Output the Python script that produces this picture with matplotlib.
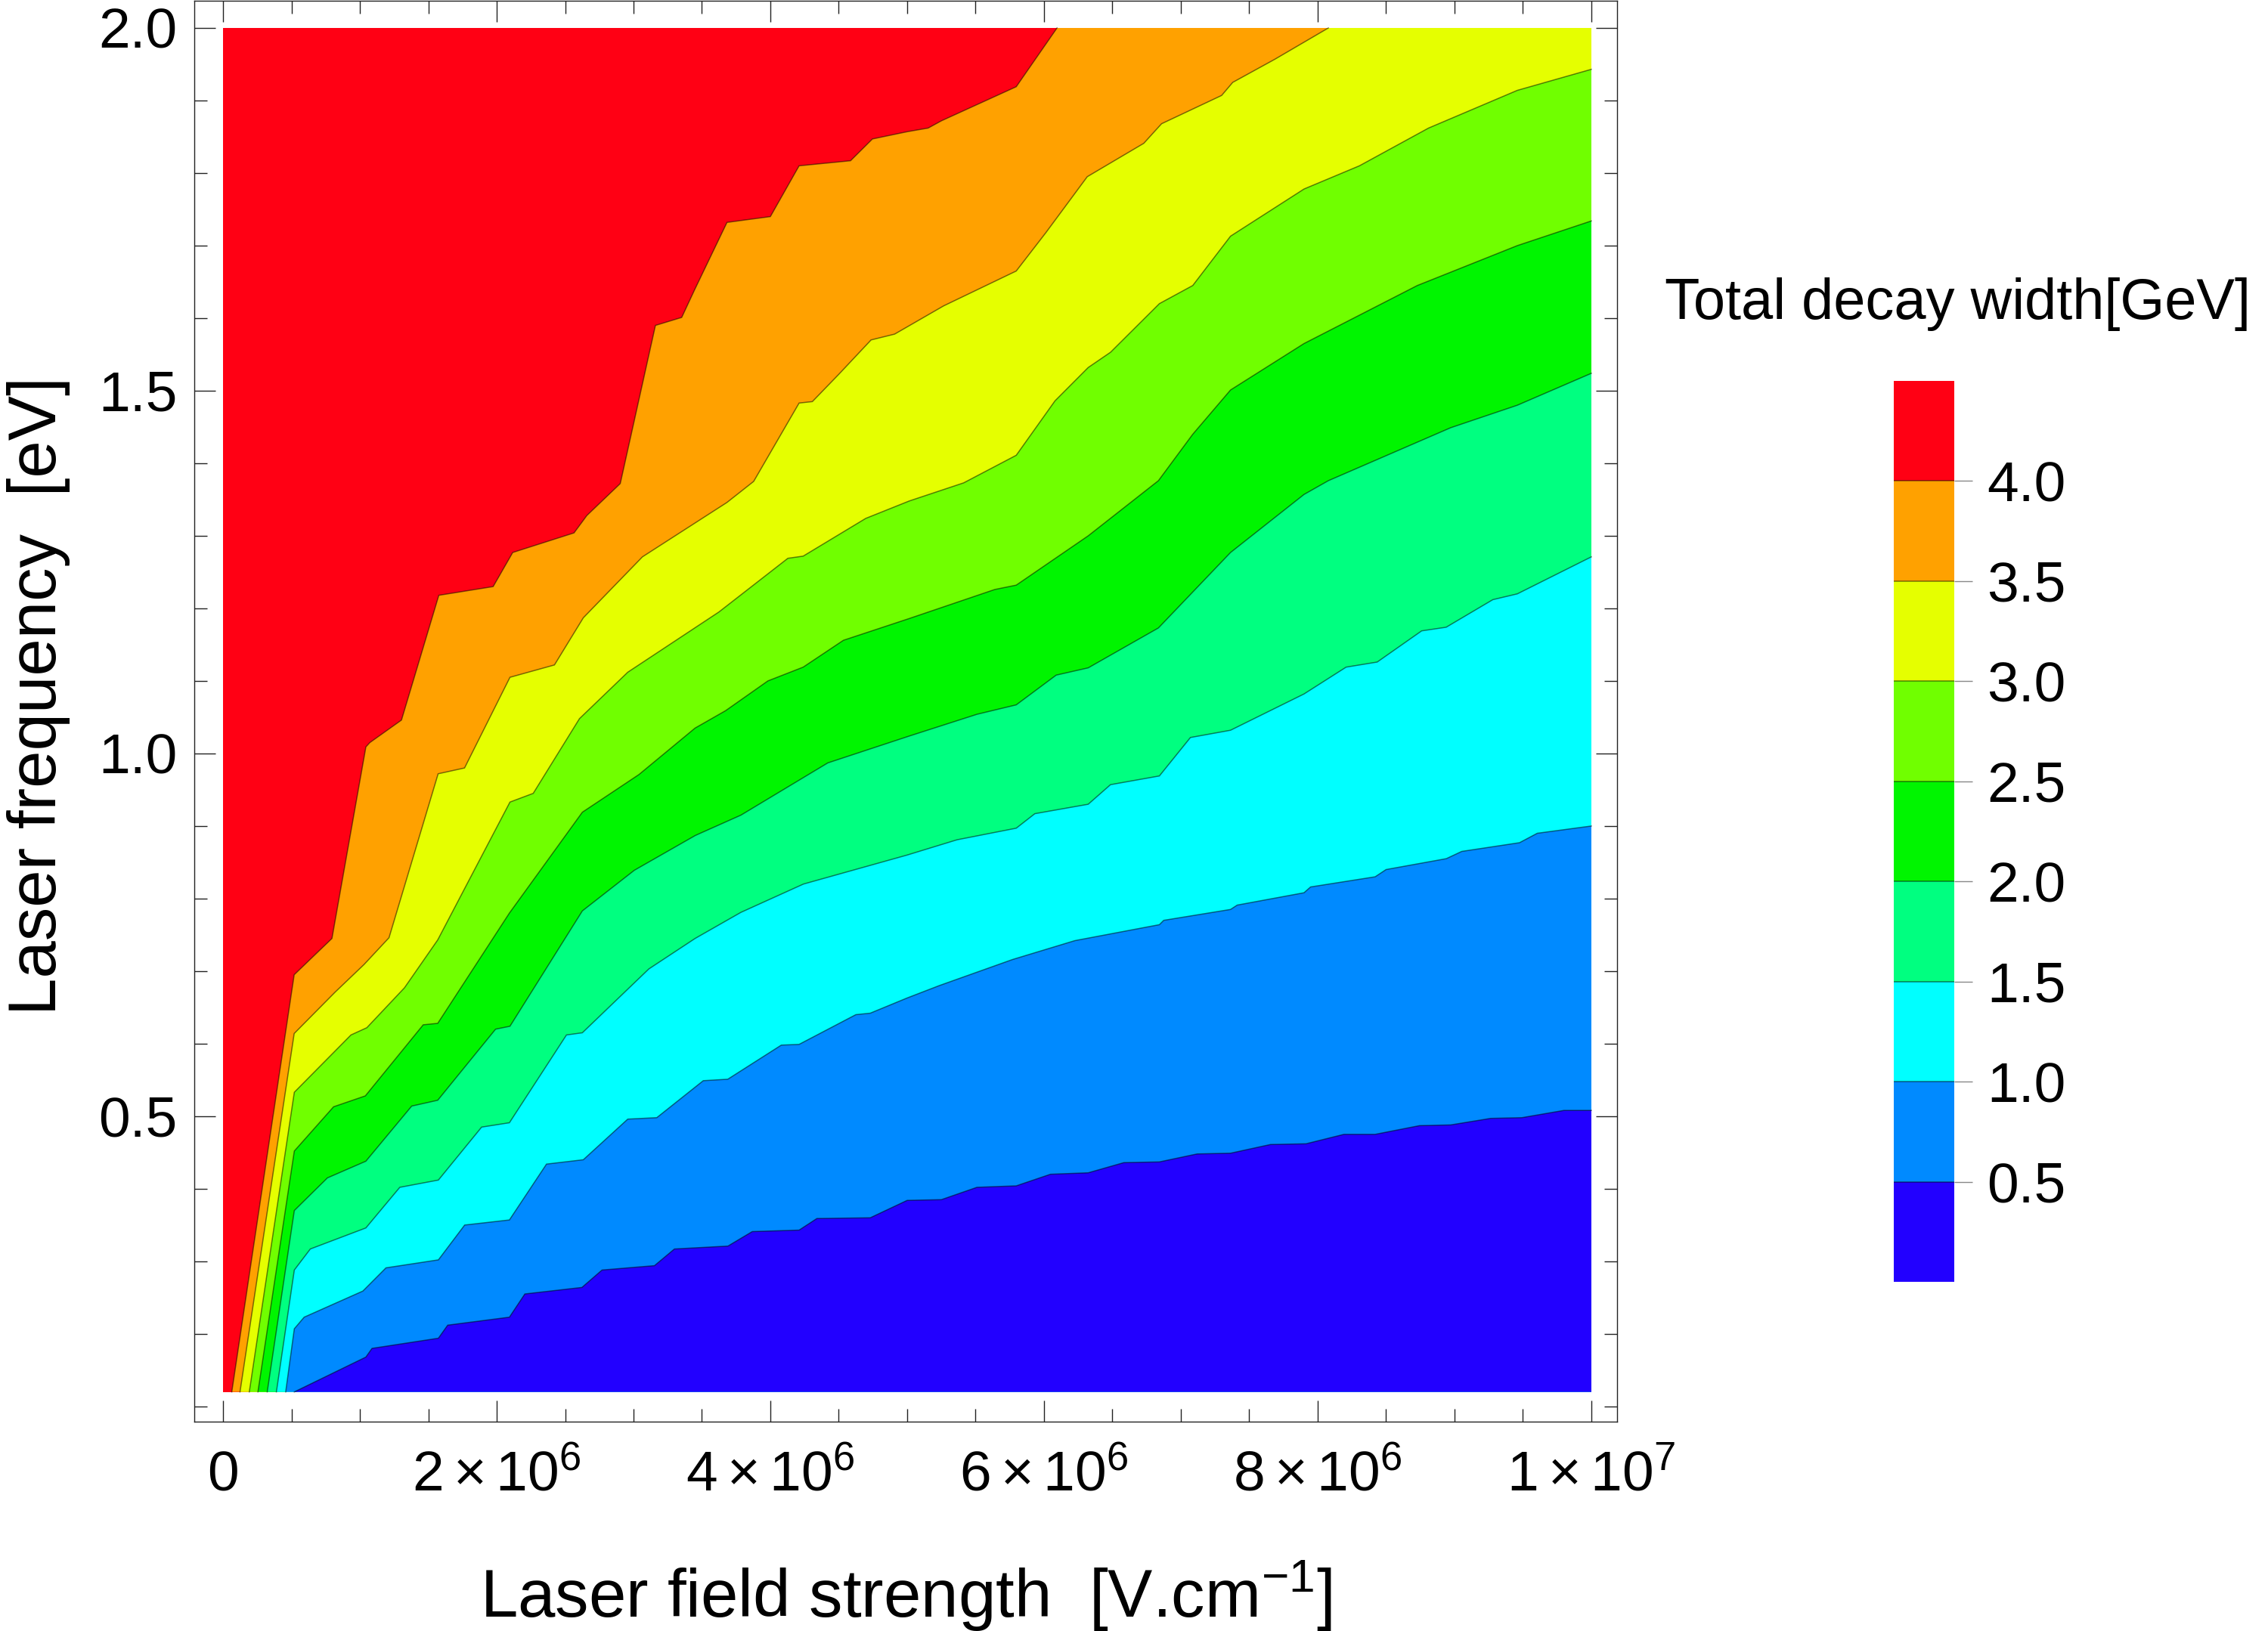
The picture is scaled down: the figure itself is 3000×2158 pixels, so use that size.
import numpy as np
import matplotlib
matplotlib.use("Agg")
import matplotlib.pyplot as plt
from matplotlib.colors import ListedColormap, BoundaryNorm
from matplotlib.cm import ScalarMappable
from matplotlib.ticker import MultipleLocator, FixedLocator

plt.rcParams['font.family'] = ['Liberation Sans', 'DejaVu Sans']
plt.rcParams['mathtext.fontset'] = 'custom'
plt.rcParams['mathtext.rm'] = 'Liberation Sans'
plt.rcParams['mathtext.it'] = 'Liberation Sans:italic'
plt.rcParams['mathtext.bf'] = 'Liberation Sans:bold'

# ---------------- data (field strength in units of 1e6 V/cm, frequency in eV) -------------
contour_levels = [0.5, 1.0, 1.5, 2.0, 2.5, 3.0, 3.5, 4.0]
colorbar_bounds = [0.0, 0.5, 1.0, 1.5, 2.0, 2.5, 3.0, 3.5, 4.0, 4.5]
band_colors = ['#2200FF', '#008AFF', '#00FFFF', '#00FF80', '#00F500',
               '#70FF00', '#E5FF00', '#FFA100', '#FF0014']
field_min, field_max = 0.0, 10.0
freq_min, freq_max = 0.12, 2.0

b40_x = [0.064, 0.52, 0.796, 1.044, 1.073, 1.304, 1.577, 1.974, 2.117, 2.565, 2.659, 2.903, 3.16, 3.352,
         3.446, 3.683, 4.0, 4.21, 4.586, 4.746, 5.0, 5.153, 5.25, 5.797, 6.095]
b40_y = [0.12, 0.695, 0.745, 1.009, 1.015, 1.046, 1.218, 1.230, 1.277, 1.304, 1.328, 1.372, 1.590, 1.601,
         1.639, 1.732, 1.740, 1.810, 1.817, 1.847, 1.857, 1.862, 1.872, 1.919, 2.0]

b35_x = [0.124, 0.52, 0.819, 1.03, 1.213, 1.572, 1.765, 2.097, 2.422, 2.633, 3.065, 3.683, 3.878, 4.21,
         4.307, 4.502, 4.736, 4.908, 5.267, 5.797, 6.014, 6.316, 6.729, 6.859, 7.298, 7.379, 7.688, 8.078]
b35_y = [0.12, 0.614, 0.671, 0.709, 0.746, 0.972, 0.980, 1.105, 1.122, 1.187, 1.271, 1.346, 1.375, 1.483,
         1.485, 1.523, 1.570, 1.578, 1.617, 1.665, 1.718, 1.795, 1.841, 1.868, 1.907, 1.925, 1.957, 2.0]

b30_x = [0.192, 0.521, 0.935, 1.051, 1.326, 1.569, 2.097, 2.267, 2.605, 2.958, 3.624, 4.128, 4.24, 4.697,
         5.015, 5.413, 5.797, 6.08, 6.323, 6.486, 6.843, 7.087, 7.363, 7.9, 8.305, 8.81, 9.459, 10.0]
b30_y = [0.12, 0.533, 0.612, 0.622, 0.677, 0.743, 0.933, 0.945, 1.048, 1.112, 1.195, 1.269, 1.272, 1.324,
         1.348, 1.373, 1.411, 1.486, 1.532, 1.553, 1.62, 1.645, 1.713, 1.778, 1.81, 1.862, 1.914, 1.943]

b25_x = [0.255, 0.521, 0.808, 1.04, 1.463, 1.569, 2.093, 2.626, 3.04, 3.45, 3.673, 3.982, 4.24, 4.534,
         5.015, 5.64, 5.797, 6.323, 6.836, 7.087, 7.363, 7.9, 8.728, 9.459, 10.0]
b25_y = [0.12, 0.452, 0.513, 0.528, 0.626, 0.628, 0.78, 0.919, 0.971, 1.035, 1.059, 1.1, 1.119, 1.156,
         1.186, 1.226, 1.232, 1.3, 1.376, 1.44, 1.501, 1.565, 1.645, 1.7, 1.734]

b20_x = [0.323, 0.521, 0.763, 1.044, 1.379, 1.569, 1.992, 2.097, 2.626, 3.006, 3.452, 3.785, 4.42, 5.015,
         5.51, 5.797, 6.089, 6.323, 6.836, 7.363, 7.9, 8.078, 8.972, 9.459, 10.0]
b20_y = [0.12, 0.37, 0.415, 0.438, 0.514, 0.522, 0.62, 0.624, 0.783, 0.839, 0.887, 0.915, 0.987, 1.024,
         1.054, 1.067, 1.108, 1.118, 1.173, 1.277, 1.357, 1.376, 1.449, 1.48, 1.524]

b15_x = [0.39, 0.521, 0.638, 1.044, 1.292, 1.574, 1.89, 2.093, 2.51, 2.626, 3.112, 3.45, 3.785, 4.242,
         5.0, 5.364, 5.797, 5.933, 6.323, 6.486, 6.843, 7.07, 7.363, 7.9, 8.208, 8.435, 8.76, 8.939,
         9.28, 9.459, 10.0]
b15_y = [0.12, 0.288, 0.317, 0.346, 0.402, 0.412, 0.485, 0.491, 0.612, 0.615, 0.703, 0.745, 0.781, 0.820,
         0.86, 0.881, 0.897, 0.917, 0.93, 0.957, 0.969, 1.022, 1.032, 1.082, 1.119, 1.126, 1.169, 1.174,
         1.212, 1.22, 1.271]

b10_x = [0.458, 0.521, 0.593, 1.022, 1.191, 1.574, 1.766, 2.093, 2.364, 2.633, 2.958, 3.17, 3.51, 3.689,
         4.08, 4.21, 4.625, 4.73, 5.0, 5.234, 5.77, 6.225, 6.843, 6.875, 7.363, 7.412, 7.9, 7.948, 8.42,
         8.5, 8.94, 9.053, 9.475, 9.605, 10.0]
b10_y = [0.12, 0.207, 0.223, 0.259, 0.291, 0.302, 0.35, 0.357, 0.434, 0.44, 0.496, 0.498, 0.549, 0.551,
         0.598, 0.599, 0.640, 0.642, 0.663, 0.68, 0.716, 0.742, 0.764, 0.77, 0.785, 0.791, 0.808, 0.816, 0.83,
         0.84, 0.855, 0.865, 0.877, 0.89, 0.9]

b05_x = [0.521, 1.044, 1.089, 1.574, 1.642, 2.093, 2.206, 2.623, 2.77, 3.153, 3.299, 3.69, 3.868, 4.21,
         4.34, 4.73, 5.0, 5.25, 5.51, 5.797, 6.047, 6.323, 6.583, 6.843, 7.119, 7.363, 7.655, 7.915, 8.192,
         8.42, 8.744, 8.972, 9.264, 9.492, 9.8, 10.0]
b05_y = [0.12, 0.168, 0.18, 0.194, 0.212, 0.223, 0.255, 0.264, 0.288, 0.294, 0.317, 0.321, 0.341, 0.343,
         0.359, 0.36, 0.384, 0.385, 0.402, 0.404, 0.42, 0.422, 0.436, 0.437, 0.448, 0.449, 0.461, 0.462, 0.475,
         0.475, 0.487, 0.488, 0.497, 0.498, 0.508, 0.508]

boundaries = [(b05_x, b05_y), (b10_x, b10_y), (b15_x, b15_y), (b20_x, b20_y),
              (b25_x, b25_y), (b30_x, b30_y), (b35_x, b35_y), (b40_x, b40_y)]

xtick_vals = [0, 2, 4, 6, 8, 10]
xtick_labels = ['0', r'$\mathregular{2\times10^{6}}$', r'$\mathregular{4\times10^{6}}$',
                r'$\mathregular{6\times10^{6}}$', r'$\mathregular{8\times10^{6}}$',
                r'$\mathregular{1\times10^{7}}$']
ytick_vals = [0.5, 1.0, 1.5, 2.0]
ytick_labels = ['0.5', '1.0', '1.5', '2.0']

# ---------------- figure ----------------
U = 1e6
W, H = 3000, 2158
fig = plt.figure(figsize=(W / 100, H / 100), dpi=100)
ax = fig.add_axes([257 / W, (H - 1881) / H, (2139 - 257) / W, 1880 / H])

# top band everywhere, then overlay lower bands below each boundary
ax.fill(np.array([field_min, field_max, field_max, field_min]) * U,
        [freq_min, freq_min, freq_max, freq_max], color=band_colors[-1], lw=0)
for i in range(len(boundaries) - 1, -1, -1):
    bx, by = boundaries[i]
    px = list(np.array(bx) * U)
    py = list(by)
    if by[-1] >= freq_max - 1e-9:
        px.append(field_max * U)
        py.append(freq_max)
    px.append(field_max * U)
    py.append(freq_min)
    ax.fill(px, py, color=band_colors[i], lw=0)
for bx, by in boundaries:
    ax.plot(np.array(bx) * U, by, color=(0, 0, 0, 0.5), lw=1.1, solid_joinstyle='miter')

ax.set_xlim(-0.21 * U, 10.188 * U)
ax.set_ylim(0.079, 2.0375)

ax.xaxis.set_major_locator(FixedLocator(np.array(xtick_vals) * U))
ax.set_xticklabels(xtick_labels)
ax.xaxis.set_minor_locator(MultipleLocator(0.5 * U))
ax.yaxis.set_major_locator(FixedLocator(ytick_vals))
ax.set_yticklabels(ytick_labels)
ax.yaxis.set_minor_locator(MultipleLocator(0.1))

ax.tick_params(which='both', direction='in', top=True, right=True, width=1.0, color='#222222')
ax.tick_params(which='major', length=20)
ax.tick_params(which='minor', length=12)
ax.tick_params(axis='y', labelsize=54, pad=16)
ax.tick_params(axis='x', labelsize=54, pad=66)
for t in ax.xaxis.get_major_ticks():
    t.label1.set_verticalalignment('baseline')
for s in ax.spines.values():
    s.set_linewidth(1.0)
    s.set_color('#222222')

fig.text(1198 / W, 18 / H, r'Laser field strength  [V.cm$^{\mathregular{-1}}$]',
         fontsize=64, ha='center', va='baseline')
fig.text(74 / W, (H - 921) / H, 'Laser frequency  [eV]', fontsize=64, rotation=90,
         rotation_mode='anchor', ha='center', va='baseline')

# ---------------- colorbar ----------------
cax = fig.add_axes([2505 / W, (H - 1696) / H, 80 / W, 1192 / H])
cmap = ListedColormap(band_colors)
norm = BoundaryNorm(colorbar_bounds, cmap.N)
cb = fig.colorbar(ScalarMappable(norm=norm, cmap=cmap), cax=cax, ticks=contour_levels,
                  drawedges=True)
cb.outline.set_visible(False)
cb.dividers.set_color((0, 0, 0, 0.5))
cb.dividers.set_linewidth(1.1)
cb.ax.set_yticklabels([f'{v:.1f}' for v in contour_levels])
cb.ax.tick_params(direction='out', length=17, width=1, color='#888888', pad=14, labelsize=54)
cb.ax.minorticks_off()
fig.text(2202 / W, (H - 422) / H, 'Total decay width[GeV]', fontsize=54.5, ha='left', va='baseline')

fig.savefig('out.png', dpi=100)
